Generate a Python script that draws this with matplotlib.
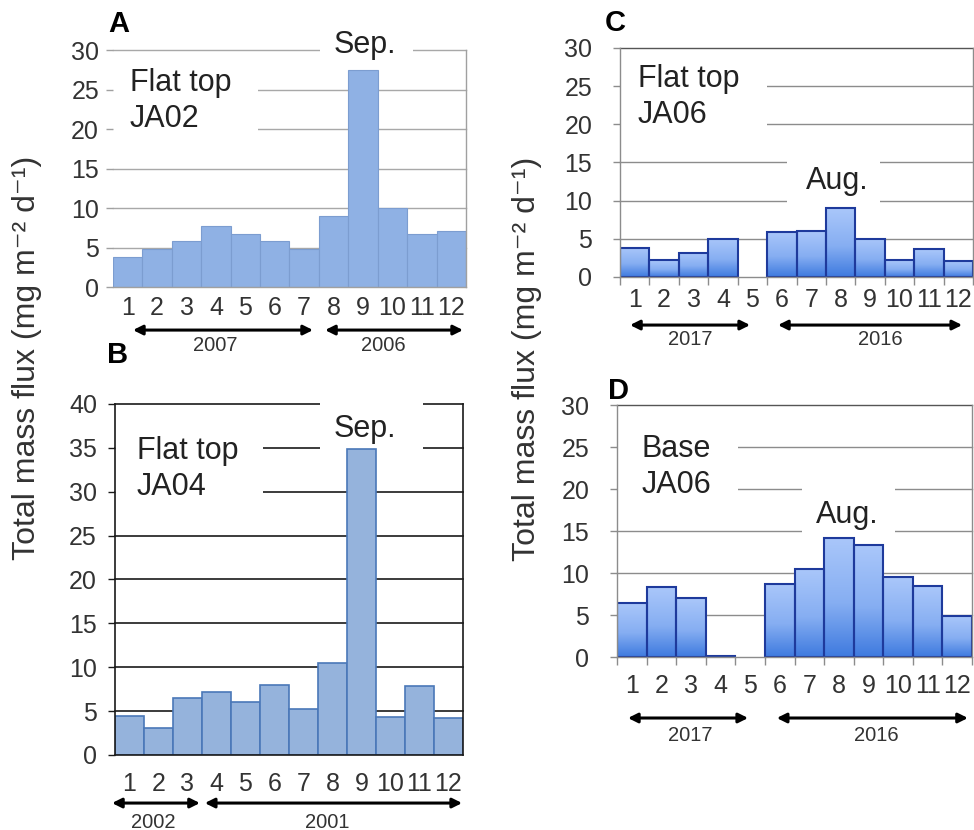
import numpy as np
import matplotlib
matplotlib.use('Agg')
import matplotlib.pyplot as plt
import matplotlib.transforms as mtransforms
from matplotlib.colors import LinearSegmentedColormap
from matplotlib.patches import Rectangle

plt.rcParams['font.family'] = ['Liberation Sans', 'DejaVu Sans']

# ── Data (monthly total mass flux, mg m-2 d-1) ──────────────────────────────
months = np.arange(1, 13)
month_labels = [str(m) for m in months]

flux_a = [3.8, 4.8, 5.8, 7.7, 6.7, 5.8, 4.8, 9.0, 27.5, 10.0, 6.7, 7.1]
flux_b = [4.4, 3.1, 6.5, 7.2, 6.0, 8.0, 5.2, 10.5, 34.9, 4.3, 7.9, 4.2]
flux_c = [3.8, 2.2, 3.2, 5.0, None, 5.9, 6.0, 9.0, 5.0, 2.2, 3.6, 2.1]
flux_d = [6.4, 8.3, 7.0, 0.12, None, 8.7, 10.5, 14.2, 13.3, 9.5, 8.4, 4.9]

years_a = ['2007', '2006']
years_b = ['2002', '2001']
years_c = ['2017', '2016']
years_d = ['2017', '2016']

site_a = 'Flat top\nJA02'
site_b = 'Flat top\nJA04'
site_c = 'Flat top\nJA06'
site_d = 'Base\nJA06'

peak_a = 'Sep.'
peak_b = 'Sep.'
peak_c = 'Aug.'
peak_d = 'Aug.'

fig = plt.figure(figsize=(9.74, 8.30), dpi=100)
fig.patch.set_facecolor('white')

grad_cmap = LinearSegmentedColormap.from_list(
    'bar', [(0, '#AAC7FA'), (0.55, '#86AEF2'), (1, '#3E7ADF')])
grad = np.linspace(0, 1, 256).reshape(-1, 1)


def white_box(ax, box):
    x0, x1, y0, y1 = box
    ax.add_patch(Rectangle((x0, y0), x1 - x0, y1 - y0, facecolor='white',
                           edgecolor='none', zorder=0.8, clip_on=False))


def panel(rect, values, ymax, years, site, peak, st):
    ax = fig.add_axes(rect)

    # horizontal guide lines (drawn by hand so the label boxes can hide them)
    for yv in range(5, ymax + 1, 5):
        col = st['top'] if yv == ymax else st['grid']
        ax.axhline(yv, color=col, lw=st['glw'], zorder=0.5, clip_on=False)

    xs = [m for m, v in zip(months, values) if v is not None]
    vs = [v for v in values if v is not None]
    if st['gradient']:
        for x, v in zip(xs, vs):
            ax.imshow(grad, extent=(x - 0.5, x + 0.5, 0, v), cmap=grad_cmap,
                      aspect='auto', interpolation='bilinear', zorder=1)
        ax.bar(xs, vs, width=1.0, facecolor='none', edgecolor=st['edge'],
               lw=st['elw'], zorder=1.2)
    else:
        ax.bar(xs, vs, width=1.0, color=st['face'], edgecolor=st['edge'],
               lw=st['elw'], zorder=1)
    ax.set_xlim(0.5, 12.5)
    ax.set_ylim(0, ymax)

    for side in ['left', 'right', 'bottom', 'top']:
        ax.spines[side].set_color(st['spine'])
        ax.spines[side].set_linewidth(st['slw'])
    ax.spines['top'].set_visible(False)
    if not st['left']:
        ax.spines['left'].set_visible(False)

    ax.set_yticks(range(0, ymax + 1, 5))
    ax.tick_params(axis='y', direction='out', length=5, width=1,
                   color=st['spine'], labelsize=18, labelcolor='#333333',
                   pad=st['ypad'])
    ax.set_xticks(months)
    ax.set_xticklabels(month_labels)
    ax.tick_params(axis='x', length=0, labelsize=18, labelcolor='#333333',
                   pad=st['xpad'])
    if st['xticks']:
        ax.set_xticks(np.arange(0.5, 13, 1), minor=True)
        ax.tick_params(axis='x', which='minor', direction='out', length=6,
                       width=1, color=st['spine'])

    # site label and peak month, on white boxes that interrupt the grid
    white_box(ax, st['site_box'])
    white_box(ax, st['peak_box'])
    ax.text(st['site_xy'][0], st['site_xy'][1], site, transform=ax.transAxes,
            ha='left', va='center', fontsize=22, color='#222222',
            linespacing=1.25, zorder=3)
    tr = mtransforms.blended_transform_factory(ax.transData, ax.transAxes)
    ax.text(st['peak_xy'][0], st['peak_xy'][1], peak, transform=tr,
            ha='center', va='center', fontsize=22, color='#222222',
            zorder=3, clip_on=False)

    # year arrows
    for (x0, x1), tx, yr in zip(st['spans'], st['tx'], years):
        ax.annotate('', xy=(x1, st['ay']), xytext=(x0, st['ay']),
                    xycoords=tr, textcoords=tr, annotation_clip=False,
                    arrowprops=dict(arrowstyle='<|-|>', color='black', lw=2.2,
                                    mutation_scale=14, shrinkA=0, shrinkB=0))
        ax.text(tx, st['ty'], yr, transform=tr, ha='center', va='center',
                fontsize=14.5, color='#333333')
    return ax


style_a = dict(gradient=False, face='#8FB1E4', edge='#7C9DD0', elw=0.8,
               grid='#A8A8A8', top='#A8A8A8', glw=1.0, spine='#A0A0A0',
               slw=1.0, left=False, xticks=False, ypad=5, xpad=6,
               site_xy=(0.048, 0.785), peak_xy=(9.07, 1.02),
               site_box=(0.5, 5.43, 17.5, 28.0), peak_box=(7.54, 10.7, 28.5, 32.5),
               spans=[(1.18, 7.3), (7.71, 12.4)], ay=-0.181,
               tx=[3.97, 9.68], ty=-0.245)
style_b = dict(gradient=False, face='#95B3DC', edge='#4A78B8', elw=1.2,
               grid='#1A1A1A', top='#1A1A1A', glw=1.2, spine='#1A1A1A',
               slw=1.2, left=True, xticks=False, ypad=8, xpad=12,
               site_xy=(0.063, 0.815), peak_xy=(9.12, 0.93),
               site_box=(0.5, 5.6, 27.5, 37.5), peak_box=(7.57, 11.12, 32.5, 42.0),
               spans=[(0.40, 3.43), (3.60, 12.47)], ay=-0.137,
               tx=[1.81, 7.81], ty=-0.191)
style_c = dict(gradient=True, edge='#1E3A9C', elw=1.5,
               grid='#8C8C8C', top='#555555', glw=1.0, spine='#8C8C8C',
               slw=1.0, left=True, xticks=True, ypad=15, xpad=8,
               site_xy=(0.051, 0.786), peak_xy=(7.88, 0.42),
               site_box=(0.5, 5.5, 17.5, 27.5), peak_box=(6.18, 9.34, 7.5, 17.5),
               spans=[(0.84, 4.92), (5.87, 12.13)], ay=-0.21,
               tx=[2.88, 9.34], ty=-0.275)
style_d = dict(style_c)
style_d.update(site_xy=(0.07, 0.754), peak_xy=(8.27, 0.563), xpad=12,
               site_box=(0.5, 4.59, 17.5, 27.5), peak_box=(6.75, 9.89, 12.5, 22.5),
               spans=[(0.87, 4.93), (5.9, 12.36)], ay=-0.242,
               tx=[2.97, 9.28], ty=-0.31)

panel([0.116, 0.654, 0.3624, 0.2855], flux_a, 30, years_a, site_a, peak_a, style_a)
panel([0.118, 0.0904, 0.3573, 0.4229], flux_b, 40, years_b, site_b, peak_b, style_b)
panel([0.6366, 0.6663, 0.3624, 0.2759], flux_c, 30, years_c, site_c, peak_c, style_c)
panel([0.6335, 0.2084, 0.3645, 0.3036], flux_d, 30, years_d, site_d, peak_d, style_d)

# panel letters
for lx, ly, letter in [(119, 24, 'A'), (118, 355, 'B'), (615, 23, 'C'), (618, 391, 'D')]:
    fig.text(lx / 974, 1 - ly / 830, letter, ha='center', va='center',
             fontsize=21, fontweight='bold', color='black')

ylab = 'Total mass flux (mg m\u207b\u00b2 d\u207b\u00b9)'
fig.text(27 / 974, 1 - 358 / 830, ylab, rotation=90, ha='center', va='center',
         fontsize=23, color='#333333')
fig.text(527 / 974, 1 - 359 / 830, ylab, rotation=90, ha='center', va='center',
         fontsize=23, color='#333333')

fig.savefig('out.png', dpi=100, facecolor='white')
